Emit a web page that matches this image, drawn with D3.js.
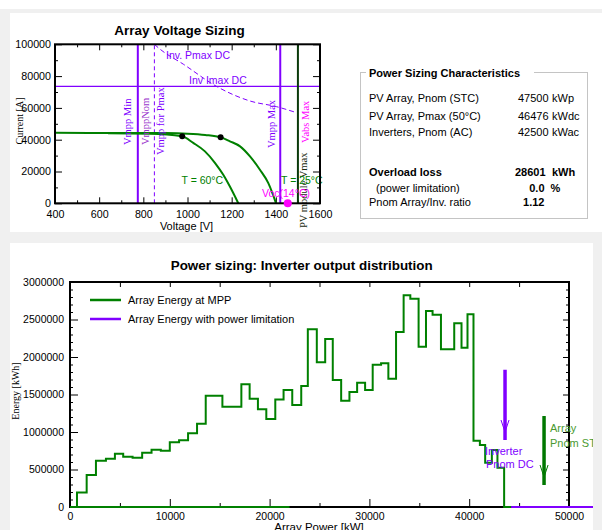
<!DOCTYPE html>
<html>
<head>
<meta charset="utf-8">
<script src="https://cdn.jsdelivr.net/npm/d3@7"></script>
<style>
  html, body { margin: 0; padding: 0; background: #fff; }
  svg { display: block; }
  text { font-family: "Liberation Sans", Arial, sans-serif; }
  text.serif { font-family: "Liberation Serif", "Times New Roman", serif; }
</style>
</head>
<body>
<svg id="chart" width="602" height="530"></svg>
<script>
// ---------- Array voltage sizing data ----------
const voltageTicks = [400, 600, 800, 1000, 1200, 1400, 1600];
const currentTicks = [0, 20000, 40000, 60000, 80000, 100000];
// I-V curves (V, A)
const ivCurve25 = [[400, 44300], [700, 44250], [900, 44150], [1000, 43800], [1080, 43000], [1150, 41500],
  [1192, 38990], [1238, 35820], [1283, 29490], [1328, 21080], [1366, 12660], [1401, 0]];
const ivCurve60 = [[640, 44000], [830, 43800], [976, 42150], [1026, 37970], [1079, 32660], [1125, 25320],
  [1162, 17910], [1192, 10510], [1230, 0]];
const mppPoints = [[976, 42150], [1150, 41500]];
// inverter max DC power limit (V, A)
const invPmaxCurve = [[850, 100000], [875, 97000], [981, 87500], [1132, 73500], [1283, 64340], [1404, 60750], [1494, 57000]];
const invImaxDC = 73500;
const vmppMin = 775;
const vmppPmax = 850;
const vmppMax = 1420;
const moduleVmax = 1500;
const voc14 = 1454;

// ---------- Power sizing characteristics ----------
const infoLabels = ["PV Array, Pnom (STC)", "PV Array, Pmax (50°C)", "Inverters, Pnom (AC)"];
const infoValues = ["47500", "46476", "42500"];
const infoUnits = ["kWp", "kWdc", "kWac"];
const lossLabels = ["Overload loss", "(power limitation)", "Pnom Array/Inv. ratio"];
const lossValues = ["28601", "0.0", "1.12"];
const lossUnits = ["kWh", "%", ""];

// ---------- Inverter output distribution ----------
const powerTicks = [0, 10000, 20000, 30000, 40000, 50000];
const energyTicks = [0, 500000, 1000000, 1500000, 2000000, 2500000, 3000000];
// bin edges (kW) and energy in each bin (kWh)
const powerEdges = [0, 700, 1670, 2600, 3600, 4500, 5330, 6270, 7230, 8170,
  9100, 10000, 10930, 11830, 12730, 13600, 15270, 17170, 18000, 18830,
  19670, 20570, 21400, 22270, 23170, 23830, 24730, 25570, 26330, 27170,
  28000, 28770, 29570, 30330, 31170, 31900, 32670, 33430, 34100, 34930,
  35670, 36330, 37170, 38500, 39230, 39830, 40430, 41070, 41600, 42270,
  42830, 43500, 44200];
const energyMPP = [0, 195000, 427000, 617000, 644000, 711000, 671000, 658000, 724000, 764000,
  751000, 862000, 889000, 982000, 1110000, 1484000, 1337000, 1638000, 1445000, 1305000,
  1175000, 1432000, 1560000, 1360000, 1613000, 2370000, 1929000, 2240000, 1693000, 1418000,
  1533000, 1658000, 1560000, 1898000, 1916000, 1711000, 2335000, 2822000, 2778000, 2138000,
  2615000, 2565000, 2102000, 2449000, 2124000, 2569000, 884000, 827000, 591000, 760000,
  524000, 0];
const mppZeroRange = [0, 22000];
const limitedZeroRange = [44200, 52500];
const inverterPnomDC = 43590;
const arrayPnomSTC = 47500;
const inverterArrow = [1830000, 893000];
const arrayArrow = [1213000, 293000];

// ---------- page ----------
const svg = d3.select("#chart");
svg.append("rect").attr("width", 602).attr("height", 530).attr("fill", "#fff");
svg.append("rect").attr("x", 0).attr("y", 9).attr("width", 602).attr("height", 521).attr("fill", "#f0f0f0");
svg.append("rect").attr("x", 10).attr("y", 13).attr("width", 592).attr("height", 219).attr("fill", "#fff");
svg.append("rect").attr("x", 10).attr("y", 243).attr("width", 583).attr("height", 287).attr("fill", "#fff");

const PURPLE = "#8000ff", GREEN = "#008000", MAGENTA = "#ff00ff";
const noLabel = () => "";

function styleAxis(g, size) {
  g.select(".domain").remove();
  g.attr("font-family", null).attr("font-size", size);
  g.selectAll(".tick line").attr("stroke", "#000");
  g.selectAll(".tick text").attr("fill", "#000");
}

// ================= Array Voltage Sizing =================
const xV = d3.scaleLinear().domain([400, 1600]).range([55, 320]);
const yI = d3.scaleLinear().domain([0, 100000]).range([203.3, 44.3]);
const gT = svg.append("g");

gT.append("text").attr("x", 179.5).attr("y", 30).attr("text-anchor", "middle")
  .attr("dominant-baseline", "central").attr("font-weight", "bold").attr("font-size", 13.5)
  .text("Array Voltage Sizing");

const minorV = d3.range(400, 1601, 100).filter(v => v % 200 !== 0);
const minorI = d3.range(0, 100001, 10000).filter(v => v % 20000 !== 0);

gT.append("g").attr("transform", `translate(0,${yI(0)})`)
  .call(d3.axisBottom(xV).tickValues(voltageTicks).tickFormat(d3.format("d")).tickSizeInner(-6).tickSizeOuter(0).tickPadding(7))
  .call(g => styleAxis(g, 10.7));
gT.append("g").attr("transform", `translate(0,${yI(0)})`)
  .call(d3.axisBottom(xV).tickValues(minorV).tickFormat(noLabel).tickSizeInner(-3).tickSizeOuter(0))
  .call(g => styleAxis(g, 10));
gT.append("g").attr("transform", `translate(0,${yI(100000)})`)
  .call(d3.axisTop(xV).tickValues(voltageTicks).tickFormat(noLabel).tickSizeInner(-6).tickSizeOuter(0))
  .call(g => styleAxis(g, 10));
gT.append("g").attr("transform", `translate(0,${yI(100000)})`)
  .call(d3.axisTop(xV).tickValues(minorV).tickFormat(noLabel).tickSizeInner(-3).tickSizeOuter(0))
  .call(g => styleAxis(g, 10));
gT.append("g").attr("transform", `translate(${xV(400)},0)`)
  .call(d3.axisLeft(yI).tickValues(currentTicks).tickFormat(d3.format("d")).tickSizeInner(-7).tickSizeOuter(0).tickPadding(4))
  .call(g => styleAxis(g, 10.7));
gT.append("g").attr("transform", `translate(${xV(400)},0)`)
  .call(d3.axisLeft(yI).tickValues(minorI).tickFormat(noLabel).tickSizeInner(-3).tickSizeOuter(0))
  .call(g => styleAxis(g, 10));
gT.append("g").attr("transform", `translate(${xV(1600)},0)`)
  .call(d3.axisRight(yI).tickValues(currentTicks).tickFormat(noLabel).tickSizeInner(-7).tickSizeOuter(0))
  .call(g => styleAxis(g, 10));
gT.append("g").attr("transform", `translate(${xV(1600)},0)`)
  .call(d3.axisRight(yI).tickValues(minorI).tickFormat(noLabel).tickSizeInner(-3).tickSizeOuter(0))
  .call(g => styleAxis(g, 10));

// axis titles
gT.append("text").attr("x", 186.5).attr("y", 230).attr("text-anchor", "middle")
  .attr("font-size", 11).text("Voltage [V]");
gT.append("text").attr("class", "serif").attr("transform", "translate(19,121) rotate(-90)").attr("text-anchor", "middle")
  .attr("dominant-baseline", "central").attr("font-size", 10).text("Current [A]");

// inverter current limit
gT.append("line").attr("x1", xV(400)).attr("x2", xV(1600)).attr("y1", yI(invImaxDC)).attr("y2", yI(invImaxDC))
  .attr("stroke", PURPLE).attr("stroke-width", 1.2);
// inverter power limit
gT.append("path").datum(invPmaxCurve)
  .attr("d", d3.line().x(d => xV(d[0])).y(d => yI(d[1])).curve(d3.curveMonotoneX))
  .attr("fill", "none").attr("stroke", PURPLE).attr("stroke-width", 1).attr("stroke-dasharray", "5,3");
// voltage window lines
gT.append("line").attr("x1", xV(vmppMin)).attr("x2", xV(vmppMin)).attr("y1", yI(0)).attr("y2", yI(100000))
  .attr("stroke", PURPLE).attr("stroke-width", 2);
gT.append("line").attr("x1", xV(vmppPmax)).attr("x2", xV(vmppPmax)).attr("y1", yI(0)).attr("y2", yI(100000))
  .attr("stroke", PURPLE).attr("stroke-width", 1).attr("stroke-dasharray", "4,3");
gT.append("line").attr("x1", xV(vmppMax)).attr("x2", xV(vmppMax)).attr("y1", yI(0)).attr("y2", yI(100000))
  .attr("stroke", PURPLE).attr("stroke-width", 2);
gT.append("line").attr("x1", xV(moduleVmax)).attr("x2", xV(moduleVmax)).attr("y1", yI(0)).attr("y2", yI(100000))
  .attr("stroke", "#0a3a0a").attr("stroke-width", 2);

// I-V curves
const ivLine = d3.line().x(d => xV(d[0])).y(d => yI(d[1])).curve(d3.curveMonotoneX);
[ivCurve25, ivCurve60].forEach(c => {
  gT.append("path").datum(c).attr("d", ivLine).attr("fill", "none")
    .attr("stroke", GREEN).attr("stroke-width", 2);
});
gT.selectAll("circle.mpp").data(mppPoints).join("circle").attr("class", "mpp")
  .attr("cx", d => xV(d[0])).attr("cy", d => yI(d[1])).attr("r", 3).attr("fill", "#000");

// vertical labels
function vLabel(x, yStart, txt, color) {
  gT.append("text").attr("class", "serif").attr("transform", `translate(${x},${yStart}) rotate(-90)`)
    .attr("dominant-baseline", "central").attr("font-size", 10.5)
    .attr("fill", color).text(txt);
}
vLabel(xV(vmppMin) - 10, 145, "Vmpp Min", PURPLE);
vLabel(xV(vmppMin) + 8, 145, "VmppNom", "#9933cc");
vLabel(xV(vmppPmax) + 6, 155, "Vmpp for Pmax", PURPLE);
vLabel(xV(vmppMax) - 9, 148, "Vmpp Max", PURPLE);
vLabel(xV(moduleVmax) + 6, 228, "PV module Vmax", "#1a2a10");
vLabel(xV(moduleVmax) + 8, 143, "Vabs Max", MAGENTA);

// horizontal labels
function hLabel(x, y, txt, color) {
  gT.append("text").attr("x", x).attr("y", y).attr("dominant-baseline", "central")
    .attr("font-size", 10.5).attr("fill", color).text(txt);
}
hLabel(166, 54.5, "Inv. Pmax DC", PURPLE);
hLabel(189, 80, "Inv Imax DC", PURPLE);
hLabel(181.5, 180, "T = 60°C", GREEN);
hLabel(281, 180, "T = 25°C", GREEN);
hLabel(262, 192.5, "Voc(14°C)", MAGENTA);

// plot frame
gT.append("rect").attr("x", xV(400)).attr("y", yI(100000)).attr("width", xV(1600) - xV(400))
  .attr("height", yI(0) - yI(100000)).attr("fill", "none").attr("stroke", "#000").attr("stroke-width", 2);
gT.append("circle").attr("cx", xV(voc14)).attr("cy", yI(0)).attr("r", 4).attr("fill", MAGENTA);

// ================= Power Sizing Characteristics =================
const gB = svg.append("g");
gB.append("rect").attr("x", 360.5).attr("y", 72.5).attr("width", 227).attr("height", 146)
  .attr("fill", "none").attr("stroke", "#c4c4c4");
gB.append("rect").attr("x", 366).attr("y", 66).attr("width", 168).attr("height", 14).attr("fill", "#fff");
gB.append("text").attr("x", 369).attr("y", 73.3).attr("dominant-baseline", "central")
  .attr("font-size", 11).attr("font-weight", "bold").text("Power Sizing Characteristics");
const infoY = [98.3, 115.7, 132.3];
infoLabels.forEach((t, i) => {
  gB.append("text").attr("x", 369).attr("y", infoY[i]).attr("dominant-baseline", "central").attr("font-size", 11).text(t);
  gB.append("text").attr("x", 548.5).attr("y", infoY[i]).attr("text-anchor", "end").attr("dominant-baseline", "central").attr("font-size", 11).text(infoValues[i]);
  gB.append("text").attr("x", 552).attr("y", infoY[i]).attr("dominant-baseline", "central").attr("font-size", 11).text(infoUnits[i]);
});
const lossY = [171.7, 187.7, 202.3];
const lossX = [369, 376, 369];
lossLabels.forEach((t, i) => {
  gB.append("text").attr("x", lossX[i]).attr("y", lossY[i]).attr("dominant-baseline", "central").attr("font-size", 11)
    .attr("font-weight", i === 0 ? "bold" : null).text(t);
  gB.append("text").attr("x", i === 0 ? 545.5 : 544.5).attr("y", lossY[i]).attr("text-anchor", "end").attr("dominant-baseline", "central")
    .attr("font-size", 11).attr("font-weight", "bold").text(lossValues[i]);
  gB.append("text").attr("x", i === 0 ? 552 : 550.5).attr("y", lossY[i]).attr("dominant-baseline", "central")
    .attr("font-size", 11).attr("font-weight", "bold").text(lossUnits[i]);
});

// ================= Inverter output distribution =================
const xP = d3.scaleLinear().domain([0, 50000]).range([70, 569]);
const yE = d3.scaleLinear().domain([0, 3000000]).range([507, 282]);
svg.append("clipPath").attr("id", "panelClip").append("rect")
  .attr("x", 10).attr("y", 243).attr("width", 583).attr("height", 287);
const gD = svg.append("g").attr("clip-path", "url(#panelClip)");

gD.append("text").attr("x", 301.7).attr("y", 265.5).attr("text-anchor", "middle").attr("dominant-baseline", "central")
  .attr("font-weight", "bold").attr("font-size", 13.4).text("Power sizing: Inverter output distribution");

const minorP = d3.range(5000, 50000, 10000);
const minorE = d3.range(0, 3000001, 100000).filter(v => v % 500000 !== 0);
const topP = d3.range(0, 50001, 5000);

gD.append("g").attr("transform", `translate(0,${yE(0)})`)
  .call(d3.axisBottom(xP).tickValues(powerTicks).tickFormat(d3.format("d")).tickSizeInner(-8).tickSizeOuter(0).tickPadding(6))
  .call(g => styleAxis(g, 10.5));
gD.append("g").attr("transform", `translate(0,${yE(0)})`)
  .call(d3.axisBottom(xP).tickValues(minorP).tickFormat(noLabel).tickSizeInner(-4).tickSizeOuter(0))
  .call(g => styleAxis(g, 10));
gD.append("g").attr("transform", `translate(0,${yE(3000000)})`)
  .call(d3.axisTop(xP).tickValues(topP).tickFormat(noLabel).tickSizeInner(-5).tickSizeOuter(0))
  .call(g => styleAxis(g, 10));
gD.append("g").attr("transform", `translate(${xP(0)},0)`)
  .call(d3.axisLeft(yE).tickValues(energyTicks).tickFormat(d3.format("d")).tickSizeInner(-8).tickSizeOuter(0).tickPadding(6))
  .call(g => styleAxis(g, 10.5));
gD.append("g").attr("transform", `translate(${xP(0)},0)`)
  .call(d3.axisLeft(yE).tickValues(minorE).tickFormat(noLabel).tickSizeInner(-3).tickSizeOuter(0))
  .call(g => styleAxis(g, 10));
gD.append("g").attr("transform", `translate(${xP(50000)},0)`)
  .call(d3.axisRight(yE).tickValues(energyTicks).tickFormat(noLabel).tickSizeInner(-6).tickSizeOuter(0))
  .call(g => styleAxis(g, 10));
gD.append("g").attr("transform", `translate(${xP(50000)},0)`)
  .call(d3.axisRight(yE).tickValues(minorE).tickFormat(noLabel).tickSizeInner(-3).tickSizeOuter(0))
  .call(g => styleAxis(g, 10));

gD.append("text").attr("x", 319).attr("y", 530.5).attr("text-anchor", "middle")
  .attr("font-size", 11.5).text("Array Power [kW]");
gD.append("text").attr("class", "serif").attr("transform", "translate(15,391) rotate(-90)").attr("text-anchor", "middle")
  .attr("dominant-baseline", "central").attr("font-size", 10).text("Energy [kWh]");

// frame
gD.append("rect").attr("x", xP(0)).attr("y", yE(3000000)).attr("width", xP(50000) - xP(0))
  .attr("height", yE(0) - yE(3000000)).attr("fill", "none").attr("stroke", "#000").attr("stroke-width", 2);

// energy histogram at MPP (step line)
const stepPts = powerEdges.map((p, i) => [p, i < energyMPP.length ? energyMPP[i] : 0]);
gD.append("path").datum(stepPts)
  .attr("d", d3.line().x(d => xP(d[0])).y(d => yE(d[1])).curve(d3.curveStepAfter))
  .attr("fill", "none").attr("stroke", GREEN).attr("stroke-width", 2);
gD.append("line").attr("x1", xP(mppZeroRange[0])).attr("x2", xP(mppZeroRange[1]))
  .attr("y1", yE(0)).attr("y2", yE(0)).attr("stroke", GREEN).attr("stroke-width", 2);
gD.append("line").attr("x1", xP(limitedZeroRange[0])).attr("x2", xP(limitedZeroRange[1]))
  .attr("y1", yE(0)).attr("y2", yE(0)).attr("stroke", PURPLE).attr("stroke-width", 2);

// markers
function arrow(p, range, color) {
  const x = xP(p), y1 = yE(range[0]), y2 = yE(range[1]);
  gD.append("line").attr("x1", x).attr("x2", x).attr("y1", y1).attr("y2", y2)
    .attr("stroke", color).attr("stroke-width", 3.5);
  gD.append("path").attr("d", `M${x - 4},${y2 - 20}L${x},${y2 - 8}L${x + 4},${y2 - 20}`)
    .attr("fill", "none").attr("stroke", color).attr("stroke-width", 1);
}
arrow(inverterPnomDC, inverterArrow, PURPLE);
arrow(arrayPnomSTC, arrayArrow, "#007800");
gD.append("text").attr("x", 485).attr("y", 450.7).attr("dominant-baseline", "central").attr("font-size", 11)
  .attr("fill", PURPLE).text("Inverter");
gD.append("text").attr("x", 486).attr("y", 464).attr("dominant-baseline", "central").attr("font-size", 11)
  .attr("fill", PURPLE).text("Pnom DC");
gD.append("text").attr("x", 550).attr("y", 427.7).attr("dominant-baseline", "central").attr("font-size", 11)
  .attr("fill", "#4a9a30").text("Array");
gD.append("text").attr("x", 550).attr("y", 443.3).attr("dominant-baseline", "central").attr("font-size", 11)
  .attr("fill", "#4a9a30").text("Pnom STC");

// legend
const legend = [["Array Energy at MPP", GREEN], ["Array Energy with power limitation", PURPLE]];
legend.forEach((d, i) => {
  const y = 300 + i * 19;
  gD.append("line").attr("x1", 90).attr("x2", 121).attr("y1", y).attr("y2", y)
    .attr("stroke", d[1]).attr("stroke-width", 2.5);
  gD.append("text").attr("x", 128).attr("y", y).attr("dominant-baseline", "central")
    .attr("font-size", 11).text(d[0]);
});
</script>
</body>
</html>
